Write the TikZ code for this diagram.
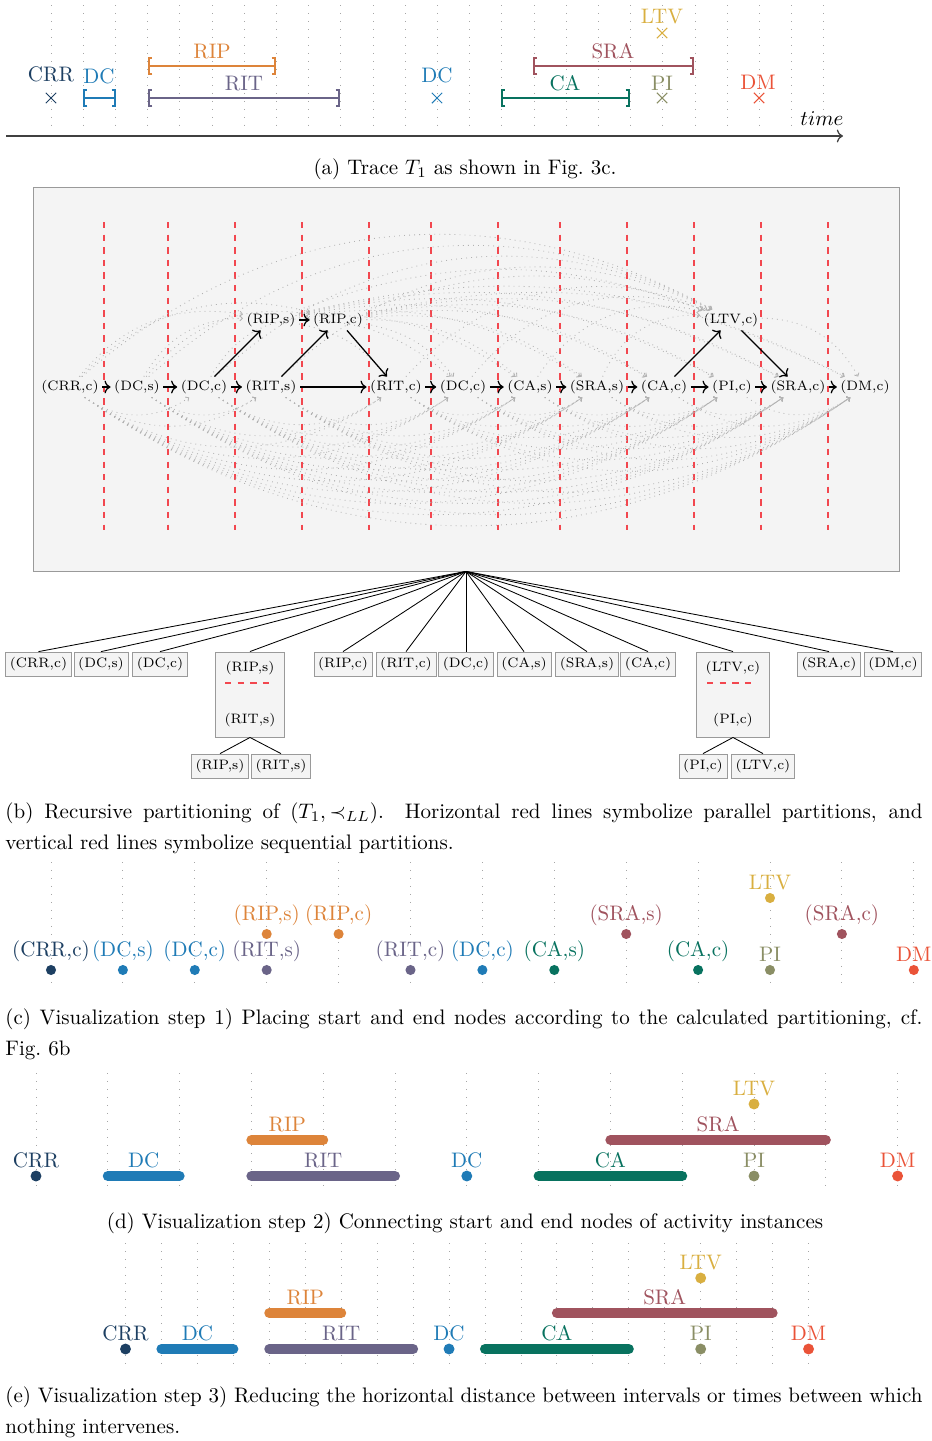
\documentclass[tikz,border=0pt]{standalone}
\usepackage{amsmath, amssymb}
\usepackage{tikz}
\usetikzlibrary{arrows.meta, positioning, calc, shapes.misc}

\definecolor{colCRR}{HTML}{1D3F62}
\definecolor{colDC}{HTML}{1F7BB6}
\definecolor{colRIP}{HTML}{DD843A}
\definecolor{colRIT}{HTML}{6A6488}
\definecolor{colCA}{HTML}{08725F}
\definecolor{colSRA}{HTML}{A0535E}
\definecolor{colLTV}{HTML}{D9AF40}
\definecolor{colPI}{HTML}{8A8E65}
\definecolor{colDM}{HTML}{EA5338}
\definecolor{boxfill}{HTML}{F4F4F4}
\definecolor{boxline}{HTML}{9A9A9A}
\definecolor{partred}{HTML}{F2474F}

\begin{document}
\begin{tikzpicture}[x=0.476pt, y=-0.476pt,
  vline/.style={gray!70, dash pattern=on 0.5pt off 3.3pt},
  lbl/.style={font=\fontsize{10}{12}\selectfont, inner sep=0pt},
  captxt/.style={font=\fontsize{10}{14.8}\selectfont, inner sep=0pt},
  ivl/.style={line width=1pt, {Bracket[width=9pt,length=1.6pt]}-{Bracket[width=9pt,length=1.6pt]}},
  xmark/.style={cross out, draw=#1, minimum size=4.4pt, inner sep=0pt, line width=0.5pt},
  evt/.style={font=\fontsize{6.5}{8}\selectfont, inner sep=1.5pt},
  leaf/.style={draw=boxline, fill=boxfill, font=\fontsize{6.5}{8}\selectfont,
               minimum height=11.4pt, inner xsep=2pt, inner ysep=0pt},
  arr/.style={-{To}, semithick},
  dep/.style={gray!60, dotted, -{Straight Barb[length=1.2pt,width=2.4pt]}},
  partsep/.style={partred, dashed, line width=0.7pt},
  dot/.style={circle, fill=#1, inner sep=0pt, minimum size=4.8pt},
  bar/.style={line width=4.8pt, line cap=round}
]
\useasboundingbox (0,0) rectangle (932,1441);

% (a) trace T1
\foreach \k in {0,...,24}
  \draw[vline] ({51+32.2*\k},5) -- ({51+32.2*\k},130);
\coordinate (tstart) at (6,136);
\coordinate (tend) at (843,136);
\draw[-{To}, line width=0.6pt, black!75] (tstart) -- (tend);
\node[lbl, anchor=base] (tlbl) at (822,125) {$time$};

\draw[ivl, colDC] (83,98) -- (116,98);
\draw[ivl, colRIP] (148,66) -- (276,66);
\draw[ivl, colRIT] (148,98) -- (340,98);
\draw[ivl, colCA] (501,98) -- (630,98);
\draw[ivl, colSRA] (533,66) -- (694,66);
\node[xmark=colCRR] (xCRR) at (51,98) {};
\node[xmark=colDC] (xDC) at (437,98) {};
\node[xmark=colLTV] (xLTV) at (662,33) {};
\node[xmark=colPI] (xPI) at (662,98) {};
\node[xmark=colDM] (xDM) at (759,98) {};
\node[lbl, text=colCRR] (aCRR) at (51,74) {CRR};
\node[lbl, text=colDC] (aDC) at (99,76) {DC};
\node[lbl, text=colRIP] (aRIP) at (212,52) {RIP};
\node[lbl, text=colRIT] (aRIT) at (244,84) {RIT};
\node[lbl, text=colDC] (aDC2) at (437,75) {DC};
\node[lbl, text=colCA] (aCA) at (565,83) {CA};
\node[lbl, text=colSRA] (aSRA) at (613,51) {SRA};
\node[lbl, text=colLTV] (aLTV) at (662,17) {LTV};
\node[lbl, text=colPI] (aPI) at (662,83) {PI};
\node[lbl, text=colDM] (aDM) at (758,82) {DM};
\node[captxt] (capa) at (465,169) {(a) Trace $T_1$ as shown in Fig.~3c.};

% (b) partitioning
\node[draw=boxline, fill=boxfill, minimum width=412.2pt, minimum height=182.8pt,
      inner sep=0pt] (graphbox) at (466,379) {};
\foreach \x in {104,168,235,302,369,431,498,560,627,694,761,828}
  \draw[partsep] (\x,222) -- (\x,530);

\foreach \n/\x/\t in {n0/70/{(CRR,c)}, n1/137/{(DC,s)}, n2/204/{(DC,c)}, n3/271/{(RIT,s)},
    n4/396/{(RIT,c)}, n5/463/{(DC,c)}, n6/530/{(CA,s)}, n7/597/{(SRA,s)},
    n8/664/{(CA,c)}, n9/732/{(PI,c)}, n10/798/{(SRA,c)}, n11/865/{(DM,c)}}
  \node[evt] (\n) at (\x,387) {\t};
\node[evt] (u0) at (271,320) {(RIP,s)};
\node[evt] (u1) at (338,320) {(RIP,c)};
\node[evt] (u2) at (731,320) {(LTV,c)};

% transitive edges
\foreach \i in {0,...,9}{
  \pgfmathtruncatemacro{\jfirst}{\i+2}
  \foreach \j in {\jfirst,...,11}
    \draw[dep] (n\i) to[bend right=35] (n\j);
}
\foreach \i in {0,1} \draw[dep] (n\i) to[bend left=30] (u0);
\foreach \i in {0,1,2} \draw[dep] (n\i) to[bend left=30] (u1);
\foreach \j in {4,...,11} \draw[dep] (u0) to[bend left=20] (n\j);
\foreach \j in {5,...,11} \draw[dep] (u1) to[bend left=20] (n\j);
\foreach \i in {0,...,7} \draw[dep] (n\i) to[bend left=35] (u2);
\draw[dep] (u0) to[bend left=20] (u2);
\draw[dep] (u1) to[bend left=20] (u2);
\draw[dep] (u2) to[bend left=30] (n11);

% direct edges
\foreach \a/\b in {n0/n1, n1/n2, n2/n3, n3/n4, n4/n5, n5/n6, n6/n7, n7/n8, n8/n9, n9/n10,
    n10/n11, u0/u1, n2/u0, n3/u1, u1/n4, n8/u2, u2/n10}
  \draw[arr] (\a) -- (\b);

% partition tree
\foreach \n/\x/\t in {l1/38.5/{(CRR,c)}, l2/101/{(DC,s)}, l3/160/{(DC,c)}, l5/343/{(RIP,c)},
    l6/406/{(RIT,c)}, l7/466/{(DC,c)}, l8/524/{(CA,s)}, l9/587/{(SRA,s)}, l10/648/{(CA,c)},
    l12/829/{(SRA,c)}, l13/893/{(DM,c)}}
  \node[leaf] (\n) at (\x,664) {\t};
\node[leaf, minimum width=32.9pt, minimum height=40.5pt] (l4) at (250,694.5) {};
\node[evt] (l4a) at (250,668) {(RIP,s)};
\node[evt] (l4b) at (250,720) {(RIT,s)};
\draw[partsep] (225,683) -- (274,683);
\node[leaf, minimum width=34.8pt, minimum height=40.5pt] (l11) at (733,694.5) {};
\node[evt] (l11a) at (733,668) {(LTV,c)};
\node[evt] (l11b) at (733,720) {(PI,c)};
\draw[partsep] (707,683) -- (757,683);
\foreach \n in {l1,l2,l3,l4,l5,l6,l7,l8,l9,l10,l11,l12,l13}
  \draw (graphbox.south) -- (\n.north);
\node[leaf] (s1) at (220,766) {(RIP,s)};
\node[leaf] (s2) at (281,766) {(RIT,s)};
\node[leaf] (s3) at (703,766) {(PI,c)};
\node[leaf] (s4) at (763,766) {(LTV,c)};
\draw (l4.south) -- (s1.north);
\draw (l4.south) -- (s2.north);
\draw (l11.south) -- (s3.north);
\draw (l11.south) -- (s4.north);
\node[captxt, text width=436.5pt, align=justify, anchor=north west] (capb) at (5,802)
  {(b) Recursive partitioning of $(T_1, \prec_{LL})$. Horizontal red lines symbolize parallel partitions, and\linebreak vertical red lines symbolize sequential partitions.};

% (c) step 1
\foreach \k in {0,...,12}
  \draw[vline] ({51+71.9*\k},862) -- ({51+71.9*\k},985);
\foreach \n/\k/\y/\c/\t in {c1/0/970/colCRR/{(CRR,c)}, c2/1/970/colDC/{(DC,s)},
    c3/2/970/colDC/{(DC,c)}, c4/3/970/colRIT/{(RIT,s)}, c5/3/934/colRIP/{(RIP,s)},
    c6/4/934/colRIP/{(RIP,c)}, c7/5/970/colRIT/{(RIT,c)}, c8/6/970/colDC/{(DC,c)},
    c9/7/970/colCA/{(CA,s)}, c10/8/934/colSRA/{(SRA,s)}, c11/9/970/colCA/{(CA,c)},
    c12/10/970/colPI/PI, c13/10/898/colLTV/LTV, c14/11/934/colSRA/{(SRA,c)},
    c15/12/970/colDM/DM}{
  \node[dot=\c] (\n) at ({51+71.9*\k},\y) {};
  \node[lbl, text=\c, above=3.8pt of \n.center] (l\n) {\t};
}
\node[captxt, text width=436.5pt, align=justify, anchor=north west] (capc) at (5,1008)
  {(c) Visualization step 1) Placing start and end nodes according to the calculated partitioning, cf.\linebreak Fig.~6b};

% (d) step 2
\foreach \k in {0,...,12}
  \draw[vline] ({36+71.8*\k},1073) -- ({36+71.8*\k},1192);
\foreach \n/\ka/\kb/\y/\c/\t in {dDC/1/2/1176/colDC/DC, dRIP/3/4/1140/colRIP/RIP,
    dRIT/3/5/1176/colRIT/RIT, dCA/7/9/1176/colCA/CA, dSRA/8/11/1140/colSRA/SRA}{
  \coordinate (\n a) at ({36+71.8*\ka},\y);
  \coordinate (\n b) at ({36+71.8*\kb},\y);
  \draw[bar, \c] (\n a) -- (\n b) node[lbl, midway, above=1.3pt] (l\n) {\t};
}
\foreach \n/\k/\y/\c/\t in {dCRR/0/1176/colCRR/CRR, dDC2/6/1176/colDC/DC,
    dLTV/10/1104/colLTV/LTV, dPI/10/1176/colPI/PI, dDM/12/1176/colDM/DM}{
  \node[dot=\c, minimum size=5.2pt] (\n) at ({36+71.8*\k},\y) {};
  \node[lbl, text=\c, above=3.8pt of \n.center] (l\n) {\t};
}
\node[captxt] (capd) at (465,1223)
  {(d) Visualization step 2) Connecting start and end nodes of activity instances};

% (e) step 3
\foreach \k in {0,...,19}
  \draw[vline] ({125.5+35.95*\k},1243) -- ({125.5+35.95*\k},1365);
\foreach \n/\ka/\kb/\y/\c/\t in {eDC/1/3/1349/colDC/DC, eRIP/4/6/1313/colRIP/RIP,
    eRIT/4/8/1349/colRIT/RIT, eCA/10/14/1349/colCA/CA, eSRA/12/18/1313/colSRA/SRA}{
  \coordinate (\n a) at ({125.5+35.95*\ka},\y);
  \coordinate (\n b) at ({125.5+35.95*\kb},\y);
  \draw[bar, \c] (\n a) -- (\n b) node[lbl, midway, above=1.3pt] (l\n) {\t};
}
\foreach \n/\k/\y/\c/\t in {eCRR/0/1349/colCRR/CRR, eDC2/9/1349/colDC/DC,
    eLTV/16/1278/colLTV/LTV, ePI/16/1349/colPI/PI, eDM/19/1349/colDM/DM}{
  \node[dot=\c, minimum size=5.2pt] (\n) at ({125.5+35.95*\k},\y) {};
  \node[lbl, text=\c, above=3.8pt of \n.center] (l\n) {\t};
}
\node[captxt, text width=436.5pt, align=justify, anchor=north west] (cape) at (5,1386)
  {(e) Visualization step 3) Reducing the horizontal distance between intervals or times between which\linebreak nothing intervenes.};
\end{tikzpicture}
\end{document}
